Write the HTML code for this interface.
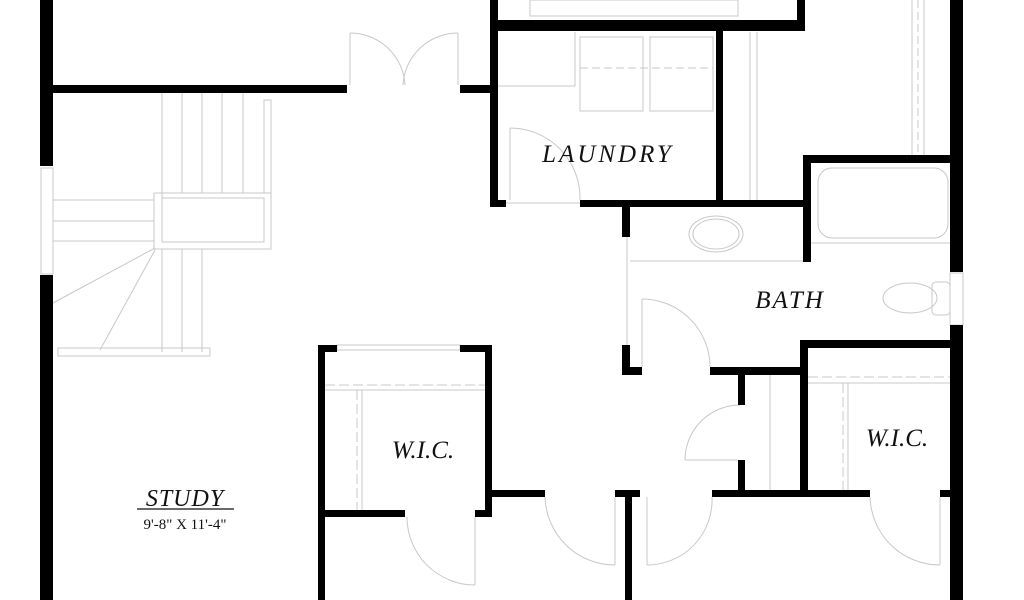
<!DOCTYPE html>
<html><head><meta charset="utf-8"><style>
html,body{margin:0;padding:0;background:#fff;}
svg{display:block}
text{font-family:"Liberation Serif",serif;font-style:italic;fill:#111}
</style></head><body>
<svg width="1024" height="600" viewBox="0 0 1024 600" xmlns="http://www.w3.org/2000/svg">
<g fill="none" stroke="#c8c8c8" stroke-width="1">
<line x1="162" y1="93" x2="162" y2="200"/><line x1="182" y1="93" x2="182" y2="193"/><line x1="202" y1="93" x2="202" y2="193"/><line x1="222" y1="93" x2="222" y2="193"/><line x1="243" y1="93" x2="243" y2="193"/>
<rect x="154" y="193" width="117" height="56"/><rect x="162" y="198" width="102" height="44"/>
<rect x="264" y="100" width="7" height="93"/>
<line x1="53" y1="200" x2="154" y2="200"/><line x1="53" y1="221" x2="154" y2="221"/><line x1="53" y1="241" x2="154" y2="241"/>
<line x1="155" y1="248" x2="53" y2="303"/><line x1="155" y1="250" x2="100" y2="350"/>
<line x1="162" y1="249" x2="162" y2="352"/><line x1="182" y1="249" x2="182" y2="352"/><line x1="202" y1="249" x2="202" y2="352"/>
<rect x="58" y="348" width="152" height="8"/>
<rect x="41" y="168" width="12" height="106"/>
<line x1="350" y1="33" x2="350" y2="85"/><path d="M350 33 A55 55 0 0 1 405 85"/>
<line x1="458" y1="33" x2="458" y2="85"/><path d="M458 33 A55 55 0 0 0 403 85"/>
<rect x="530" y="0" width="208" height="16"/>
<rect x="580" y="37" width="63" height="74"/><rect x="650" y="37" width="63" height="74"/>
<line x1="498" y1="86" x2="575" y2="86"/><line x1="575" y1="32" x2="575" y2="86"/>
<line x1="580" y1="68" x2="713" y2="68" stroke-dasharray="8 4"/>
<line x1="750" y1="32" x2="750" y2="200"/><line x1="757" y1="32" x2="757" y2="200"/>
<line x1="912" y1="0" x2="912" y2="155"/><line x1="918" y1="0" x2="918" y2="155" stroke-dasharray="8 4"/><line x1="924" y1="0" x2="924" y2="155"/>
<line x1="510" y1="128" x2="510" y2="200"/><path d="M510 128 A70 70 0 0 1 580 200"/>
<line x1="505" y1="203" x2="580" y2="203"/>
<rect x="818" y="168" width="130" height="70" rx="14"/>
<line x1="811" y1="243" x2="950" y2="243"/>
<ellipse cx="716" cy="234" rx="27" ry="18"/><ellipse cx="716" cy="234" rx="23" ry="15"/>
<line x1="630" y1="261" x2="803" y2="261"/>
<ellipse cx="910" cy="298" rx="27" ry="15"/><rect x="932" y="282" width="18" height="33" rx="4"/>
<rect x="950" y="273" width="13" height="52"/>
<line x1="627" y1="237" x2="627" y2="345"/>
<line x1="642" y1="299" x2="642" y2="367"/><path d="M642 299 A68 68 0 0 1 710 367"/>
<rect x="337" y="345" width="123" height="5"/>
<line x1="325" y1="385" x2="485" y2="385" stroke-dasharray="10 4"/><line x1="325" y1="390" x2="485" y2="390"/>
<line x1="357" y1="390" x2="357" y2="510" stroke-dasharray="10 4"/><line x1="362" y1="390" x2="362" y2="510"/>
<line x1="475" y1="517" x2="475" y2="585"/><path d="M475 585 A68 68 0 0 1 407 517"/>
<line x1="738" y1="460" x2="685" y2="460"/><path d="M685 460 A55 55 0 0 1 740 405"/>
<line x1="770" y1="375" x2="770" y2="490"/>
<line x1="808" y1="377" x2="950" y2="377" stroke-dasharray="10 4"/><line x1="808" y1="383" x2="950" y2="383"/>
<line x1="843" y1="383" x2="843" y2="490" stroke-dasharray="10 4"/><line x1="848" y1="383" x2="848" y2="490"/>
<line x1="940" y1="497" x2="940" y2="565"/><path d="M940 565 A70 70 0 0 1 870 497"/>
<line x1="615" y1="497" x2="615" y2="565"/><path d="M615 565 A70 70 0 0 1 545 497"/>
<line x1="647" y1="497" x2="647" y2="565"/><path d="M647 565 A65 65 0 0 0 712 497"/>
</g>
<g fill="#000">
<rect x="40" y="0" width="13" height="166"/><rect x="40" y="275" width="13" height="325"/>
<rect x="53" y="85" width="294" height="8"/><rect x="460" y="85" width="30" height="8"/>
<rect x="490" y="0" width="8" height="207"/><rect x="490" y="20" width="315" height="11"/><rect x="797" y="0" width="8" height="31"/>
<rect x="716" y="31" width="7" height="176"/>
<rect x="490" y="200" width="16" height="7"/><rect x="580" y="200" width="225" height="7"/>
<rect x="622" y="207" width="8" height="30"/><rect x="622" y="345" width="8" height="30"/>
<rect x="803" y="155" width="8" height="107"/><rect x="803" y="155" width="152" height="8"/>
<rect x="950" y="0" width="13" height="272"/><rect x="950" y="325" width="13" height="275"/>
<rect x="800" y="340" width="155" height="8"/><rect x="800" y="340" width="8" height="153"/>
<rect x="622" y="367" width="20" height="8"/><rect x="710" y="367" width="95" height="8"/>
<rect x="738" y="375" width="7" height="30"/><rect x="738" y="460" width="7" height="32"/>
<rect x="318" y="345" width="7" height="255"/><rect x="318" y="345" width="19" height="7"/><rect x="460" y="345" width="32" height="7"/>
<rect x="485" y="345" width="7" height="172"/><rect x="325" y="510" width="80" height="7"/><rect x="475" y="510" width="17" height="7"/>
<rect x="492" y="490" width="53" height="7"/><rect x="615" y="490" width="25" height="7"/><rect x="625" y="497" width="7" height="103"/>
<rect x="712" y="490" width="158" height="7"/><rect x="940" y="490" width="15" height="7"/>
</g>
<text x="608" y="162" font-size="25" text-anchor="middle" letter-spacing="3">LAUNDRY</text>
<text x="790" y="308" font-size="25" text-anchor="middle" letter-spacing="2">BATH</text>
<text x="423" y="458" font-size="25" text-anchor="middle">W.I.C.</text>
<text x="897" y="446" font-size="25" text-anchor="middle">W.I.C.</text>
<text x="185" y="506" font-size="24" text-anchor="middle" letter-spacing="1">STUDY</text>
<line x1="137" y1="509" x2="234" y2="509" stroke="#111" stroke-width="1.2"/>
<text x="185" y="529" font-size="15" text-anchor="middle" style="font-style:normal">9'-8" X 11'-4"</text>
</svg>
</body></html>
